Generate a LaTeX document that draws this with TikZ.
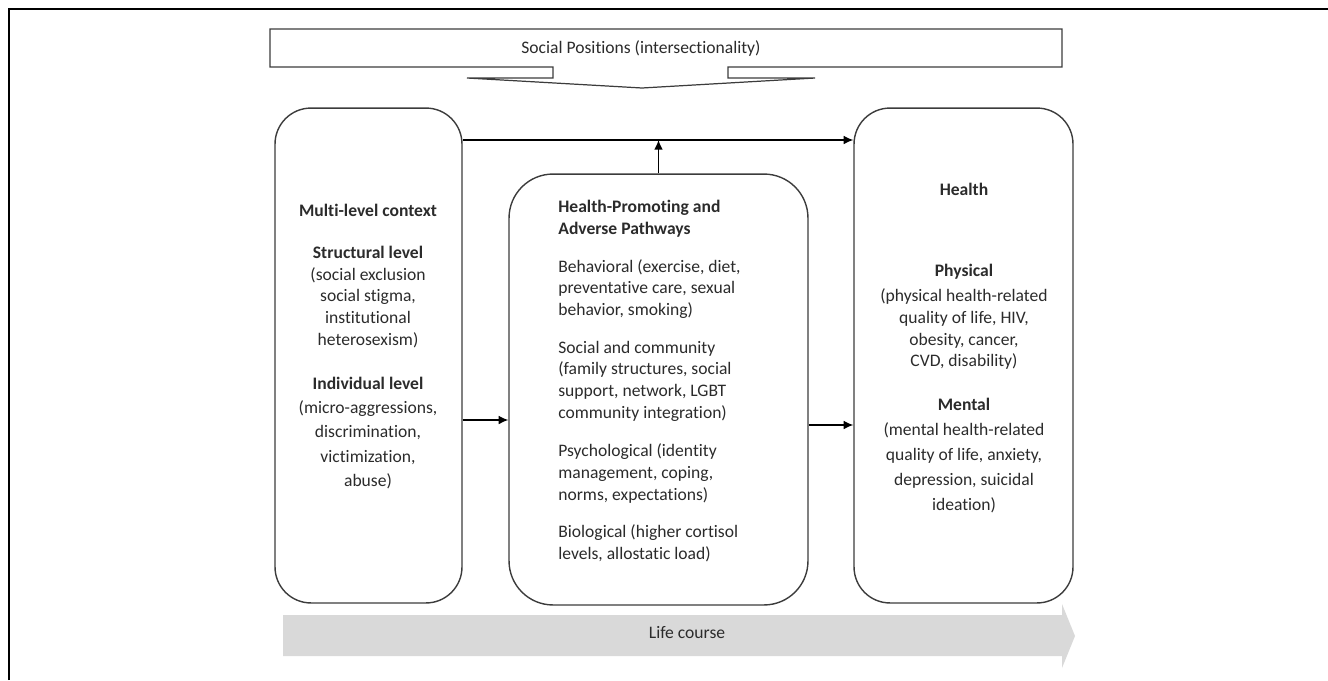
\documentclass[tikz,border=0pt]{standalone}
\usepackage{fontspec}
\setmainfont{Carlito}[Ligatures=NoCommon]
\usepackage{xcolor}
\usepackage{tikz}
\usetikzlibrary{arrows.meta}

\definecolor{inkgray}{HTML}{2B2B2B}
\definecolor{linegray}{HTML}{3C3C3C}
\definecolor{lifegray}{HTML}{D9D9D9}

\begin{document}
\begin{tikzpicture}[x=0.02cm, y=-0.02cm,
    every node/.style={text=inkgray, font=\fontsize{10}{12.3}\selectfont, inner sep=0pt},
    panel/.style={draw=linegray, line width=0.8pt, rounded corners=0.72cm},
    midtxt/.style={anchor=west, align=left},
    sidetxt/.style={align=center},
    link/.style={draw=black, line width=0.8pt, -{Latex[length=5.5pt,width=5pt]}}]

\useasboundingbox (0,0) rectangle (1328,680);

% Frame
\draw[line width=1.2pt] (9,680) -- (9,9) -- (1328,9);

% Social positions banner
\draw[linegray, line width=0.7pt] (270,29) -- (1062,29) -- (1062,67) -- (728,67) -- (728,78)
    -- (815,78) -- (642,88) -- (467,78) -- (553,78) -- (553,67) -- (270,67) -- cycle;
\node (social) at (641,48) {Social Positions (intersectionality)};

% Life course
\fill[lifegray] (283,615) -- (1062,615) -- (1062,604) -- (1075,636) -- (1062,668)
    -- (1062,656) -- (283,656) -- cycle;
\node (life) at (687,633) {Life course};

% Panels
\node[panel, minimum width=3.74cm, minimum height=9.9cm] (ctx) at (368.5,355.5) {};
\node[panel, rounded corners=0.88cm, minimum width=5.98cm, minimum height=8.62cm] (path) at (658.5,389.5) {};
\node[panel, minimum width=4.38cm, minimum height=9.9cm] (hlth) at (963.5,355.5) {};

% Multi-level context
\node[sidetxt, font=\fontsize{10}{12.3}\selectfont\bfseries] (ctxttl) at (368,210) {Multi-level context};
\node[sidetxt] (struct) at (368,297) {\textbf{Structural level}\\(social exclusion\\social stigma,\\institutional\\heterosexism)};
\node[sidetxt, font=\fontsize{10}{13.9}\selectfont] (indiv) at (368,433) {\textbf{Individual level}\\(micro-aggressions,\\discrimination,\\victimization,\\abuse)};

% Pathways
\node[midtxt] (pathttl) at (558,219) {\textbf{Health-Promoting and}\\\textbf{Adverse Pathways}};
\node[midtxt] (behav) at (558,289) {Behavioral (exercise, diet,\\preventative care, sexual\\behavior, smoking)};
\node[midtxt] (socl) at (558,381) {Social and community\\(family structures, social\\support, network, LGBT\\community integration)};
\node[midtxt] (psych) at (558,473.5) {Psychological (identity\\management, coping,\\norms, expectations)};
\node[midtxt] (bio) at (558,543.5) {Biological (higher cortisol\\levels, allostatic load)};

% Health
\node[sidetxt, font=\fontsize{10}{12.3}\selectfont\bfseries] (hlthttl) at (964,189) {Health};
\node[sidetxt] (phys) at (964,317) {\textbf{Physical}\\[1.9pt](physical health-related\\quality of life, HIV,\\obesity, cancer,\\CVD, disability)};
\node[sidetxt, font=\fontsize{10}{14.2}\selectfont] (ment) at (964,455.5) {\textbf{Mental}\\(mental health-related\\quality of life, anxiety,\\depression, suicidal\\ideation)};

% Connectors
\coordinate (topin) at (ctx.east |- 0,140);
\coordinate (topout) at (hlth.west |- 0,140);
\draw[link] (topin) -- (topout);
\draw[link] (path.north) -- (path.north |- topin);
\draw[link] (ctx.east |- 0,420) -- (path.west |- 0,420);
\draw[link] (path.east |- 0,425) -- (hlth.west |- 0,425);

\end{tikzpicture}
\end{document}
